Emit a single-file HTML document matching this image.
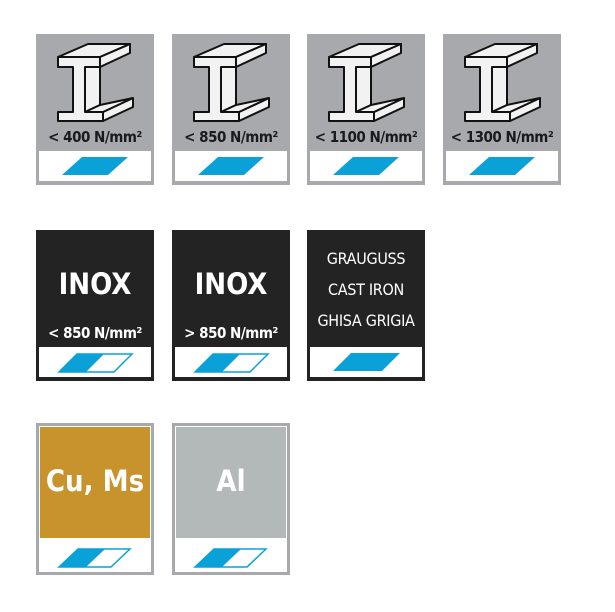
<!DOCTYPE html>
<html><head><meta charset="utf-8"><style>
body{margin:0;width:615px;height:612px;background:#fff;position:relative;overflow:hidden;font-family:"DejaVu Sans Condensed","Liberation Sans",sans-serif}
.t{position:absolute;width:118px;height:151px;box-sizing:border-box}
.g{background:#a7a9ac}
.k{background:#232323}
.band{position:absolute;left:3px;right:3px;bottom:4px;height:30px;background:#fff}
.band svg{position:absolute;left:0;top:0}
.lbl{position:absolute;left:0;right:0;text-align:center;font-weight:bold;font-size:15px;color:#fff;letter-spacing:-0.5px;white-space:nowrap}
.g .lbl{color:#1a1a1a}
.big{position:absolute;left:0;right:0;text-align:center;color:#fff;font-weight:bold;font-size:29px;white-space:nowrap}
.gr{position:absolute;left:0;right:0;text-align:center;color:#fff;font-size:16px;line-height:31px;top:13px;letter-spacing:-0.3px}
.fr{position:absolute;width:118px;height:152px;box-sizing:border-box;border:3px solid #a7a9ac;background:#fff}
.in{position:absolute;left:1px;right:1px;top:1px;height:111px}
</style></head><body>

<div class="t g" style="left:36px;top:34px">
<svg width="118" height="100" style="position:absolute;left:0;top:0"><g fill="#f2f2f2" stroke="#111" stroke-width="2" stroke-linejoin="round">
<polygon points="22,23 52,10 94,10 64,23"/><polygon points="64,23 94,10 94,19 64,33"/>
<polygon points="49,33 64,27 64,71 49,78"/>
<polygon points="67,78 97,64 97,73 67,87"/><polygon points="49,78 64,71 97,64 67,78"/>
<polygon points="22,23 64,23 64,33 49,33 49,78 67,78 67,87 22,87 22,78 37,78 37,33 22,33"/></g></svg>
<div class="lbl" style="top:94px">&lt; 400 N/mm²</div>
<div class="band"><svg width="112" height="30"><polygon points="23,24 43,6 89,6 69,24" fill="#0aa0d8"/></svg></div></div>

<div class="t g" style="left:172px;top:34px">
<svg width="118" height="100" style="position:absolute;left:0;top:0"><g fill="#f2f2f2" stroke="#111" stroke-width="2" stroke-linejoin="round">
<polygon points="22,23 52,10 94,10 64,23"/><polygon points="64,23 94,10 94,19 64,33"/>
<polygon points="49,33 64,27 64,71 49,78"/>
<polygon points="67,78 97,64 97,73 67,87"/><polygon points="49,78 64,71 97,64 67,78"/>
<polygon points="22,23 64,23 64,33 49,33 49,78 67,78 67,87 22,87 22,78 37,78 37,33 22,33"/></g></svg>
<div class="lbl" style="top:94px">&lt; 850 N/mm²</div>
<div class="band"><svg width="112" height="30"><polygon points="23,24 43,6 89,6 69,24" fill="#0aa0d8"/></svg></div></div>

<div class="t g" style="left:307px;top:34px">
<svg width="118" height="100" style="position:absolute;left:0;top:0"><g fill="#f2f2f2" stroke="#111" stroke-width="2" stroke-linejoin="round">
<polygon points="22,23 52,10 94,10 64,23"/><polygon points="64,23 94,10 94,19 64,33"/>
<polygon points="49,33 64,27 64,71 49,78"/>
<polygon points="67,78 97,64 97,73 67,87"/><polygon points="49,78 64,71 97,64 67,78"/>
<polygon points="22,23 64,23 64,33 49,33 49,78 67,78 67,87 22,87 22,78 37,78 37,33 22,33"/></g></svg>
<div class="lbl" style="top:94px">&lt; 1100 N/mm²</div>
<div class="band"><svg width="112" height="30"><polygon points="23,24 43,6 89,6 69,24" fill="#0aa0d8"/></svg></div></div>

<div class="t g" style="left:443px;top:34px">
<svg width="118" height="100" style="position:absolute;left:0;top:0"><g fill="#f2f2f2" stroke="#111" stroke-width="2" stroke-linejoin="round">
<polygon points="22,23 52,10 94,10 64,23"/><polygon points="64,23 94,10 94,19 64,33"/>
<polygon points="49,33 64,27 64,71 49,78"/>
<polygon points="67,78 97,64 97,73 67,87"/><polygon points="49,78 64,71 97,64 67,78"/>
<polygon points="22,23 64,23 64,33 49,33 49,78 67,78 67,87 22,87 22,78 37,78 37,33 22,33"/></g></svg>
<div class="lbl" style="top:94px">&lt; 1300 N/mm²</div>
<div class="band"><svg width="112" height="30"><polygon points="23,24 43,6 89,6 69,24" fill="#0aa0d8"/></svg></div></div>

<div class="t k" style="left:36px;top:230px">
<div class="big" style="top:37px">INOX</div>
<div class="lbl" style="top:94px">&lt; 850 N/mm²</div>
<div class="band"><svg width="112" height="30"><polygon points="20,25 38,7 93,7 75,25" fill="#fff" stroke="#0aa0d8" stroke-width="1.5"/><polygon points="20,25 38,7 65,7 47,25" fill="#0aa0d8"/></svg></div></div>

<div class="t k" style="left:172px;top:230px">
<div class="big" style="top:37px">INOX</div>
<div class="lbl" style="top:94px">&gt; 850 N/mm²</div>
<div class="band"><svg width="112" height="30"><polygon points="20,25 38,7 93,7 75,25" fill="#fff" stroke="#0aa0d8" stroke-width="1.5"/><polygon points="20,25 38,7 65,7 47,25" fill="#0aa0d8"/></svg></div></div>

<div class="t k" style="left:307px;top:230px">
<div class="gr">GRAUGUSS<br>CAST IRON<br>GHISA GRIGIA</div>
<div class="band"><svg width="112" height="30"><polygon points="23,24 41,6 90,6 72,24" fill="#0aa0d8"/></svg></div></div>

<div class="fr" style="left:36px;top:423px">
<div class="in" style="background:#c8922c"><div class="big" style="top:37px;font-size:29px">Cu, Ms</div></div>
<div style="position:absolute;left:0;top:113px"><svg width="112" height="33"><polygon points="20,28 39,10 91,10 72,28" fill="#fff" stroke="#0aa0d8" stroke-width="1.5"/><polygon points="20,28 39,10 66,10 47,28" fill="#0aa0d8"/></svg></div></div>

<div class="fr" style="left:172px;top:423px">
<div class="in" style="background:#b3b8b8"><div class="big" style="top:37px;font-size:29px">Al</div></div>
<div style="position:absolute;left:0;top:113px"><svg width="112" height="33"><polygon points="20,28 39,10 91,10 72,28" fill="#fff" stroke="#0aa0d8" stroke-width="1.5"/><polygon points="20,28 39,10 66,10 47,28" fill="#0aa0d8"/></svg></div></div>

</body></html>
